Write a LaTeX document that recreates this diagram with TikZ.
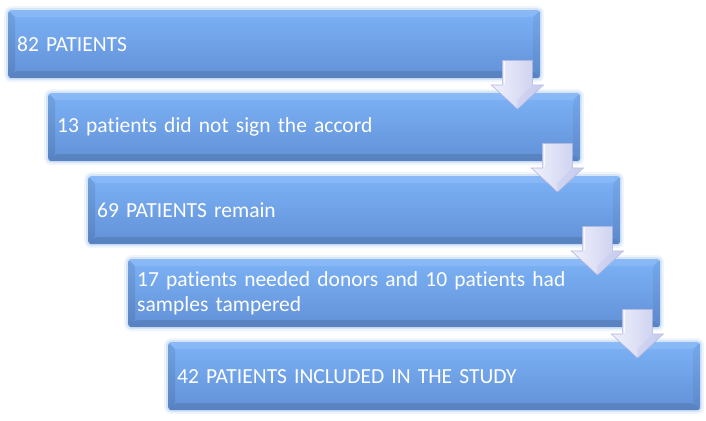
\documentclass[tikz,border=0pt]{standalone}
\usepackage{fontspec}
\setmainfont{Carlito}[Ligatures=NoCommon]
\usetikzlibrary{calc}
\definecolor{boxtop}{RGB}{124,178,246}
\definecolor{boxbot}{RGB}{98,144,214}
\definecolor{glowc}{RGB}{170,200,240}
\definecolor{arrl}{RGB}{240,241,252}
\definecolor{arrr}{RGB}{200,204,238}
\definecolor{arrd}{RGB}{175,180,222}
\tikzset{
  stepbox/.style={anchor=north west, minimum width=532pt, minimum height=68pt,
    text width=514pt, inner xsep=9pt, inner ysep=0pt, align=left, text=white,
    font=\fontsize{21.5pt}{25pt}\selectfont, rounded corners=3pt,
    top color=boxtop, bottom color=boxbot,
    preaction={draw=glowc, line width=8pt, opacity=0.18},
    preaction={draw=glowc, line width=4pt, opacity=0.35},
    path picture={
      \coordinate (ppnw) at (path picture bounding box.north west);
      \coordinate (ppne) at (path picture bounding box.north east);
      \coordinate (ppsw) at (path picture bounding box.south west);
      \coordinate (ppse) at (path picture bounding box.south east);
      \fill[white, opacity=0.10] (ppnw) -- (ppne) -- ($(ppne)+(-7pt,-7pt)$) -- ($(ppnw)+(7pt,-7pt)$) -- cycle;
      \fill[black, opacity=0.09] (ppnw) -- ($(ppnw)+(7pt,-7pt)$) -- ($(ppsw)+(7pt,7pt)$) -- (ppsw) -- cycle;
      \fill[black, opacity=0.10] (ppsw) -- ($(ppsw)+(7pt,7pt)$) -- ($(ppse)+(-7pt,7pt)$) -- (ppse) -- cycle;
      \fill[black, opacity=0.05] (ppse) -- ($(ppse)+(-7pt,7pt)$) -- ($(ppne)+(-7pt,-7pt)$) -- (ppne) -- cycle;
    }},
  arrowshape/.style={left color=arrl, right color=arrr, draw=arrd, line width=0.6pt, line join=miter},
  headfacet/.style={fill=arrr, opacity=0.55}
}
\begin{document}
\begin{tikzpicture}
\useasboundingbox (0,0) rectangle (706pt,-420pt);
\node[stepbox] (b1) at (8pt,-10pt) {82 PATIENTS};
\node[stepbox] (b2) at (48pt,-93pt) {13 patients did not sign the accord};
\node[stepbox] (b3) at (88pt,-176pt) {69 PATIENTS remain};
\node[stepbox] (b4) at (128pt,-259pt) {17 patients needed donors and 10 patients had\\samples tampered};
\node[stepbox] (b5) at (168pt,-342pt) {42 PATIENTS INCLUDED IN THE STUDY};
\foreach \i/\j in {1/2,2/3,3/4,4/5}{
  \coordinate (s\i) at ($(b\i.south east)+(-23pt,18pt)$);
  \coordinate (e\i) at ($(b\j.north east)+(-63pt,-16pt)$);
  \draw[arrowshape] ($(s\i)+(-15pt,0pt)$) -- ($(s\i)+(15pt,0pt)$) -- ($(e\i)+(15pt,24pt)$)
    -- ($(e\i)+(26pt,24pt)$) -- (e\i) -- ($(e\i)+(-26pt,24pt)$) -- ($(e\i)+(-15pt,24pt)$) -- cycle;
  \fill[headfacet] (e\i) -- ($(e\i)+(26pt,24pt)$) -- ($(e\i)+(15pt,24pt)$) -- ($(e\i)+(0pt,9pt)$) -- cycle;
  \draw[white, line width=1pt, opacity=0.8] ($(s\i)+(-13pt,-1pt)$) -- ($(e\i)+(-13pt,25pt)$);
}
\end{tikzpicture}
\end{document}
